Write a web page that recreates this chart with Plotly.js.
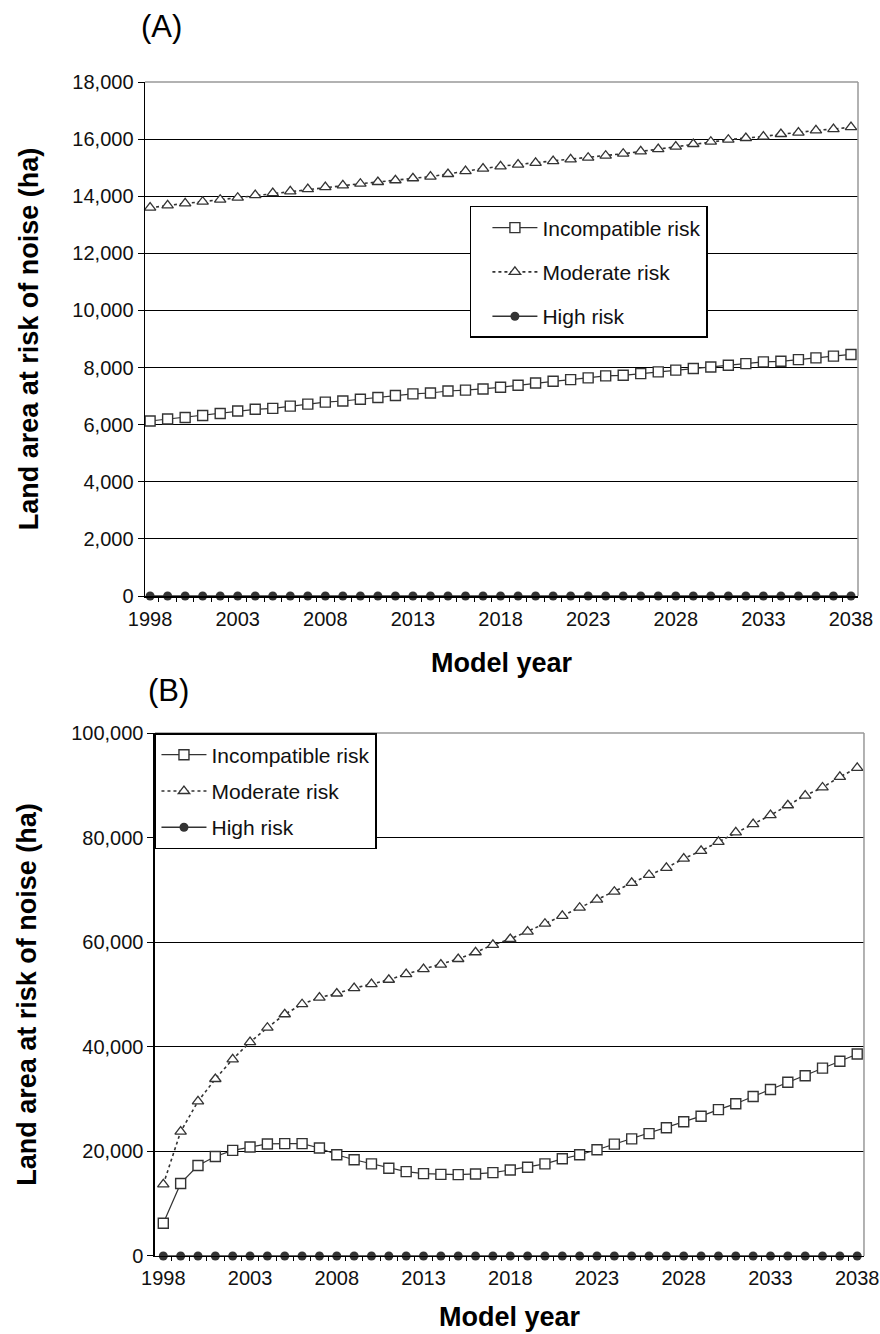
<!DOCTYPE html>
<html>
<head>
<meta charset="utf-8">
<script src="https://cdn.plot.ly/plotly-3.0.1.min.js"></script>
<style>html,body{margin:0;padding:0;background:#fff;}#chart{width:880px;height:1334px;}</style>
</head>
<body>
<div id="chart"></div>
<script>
// ---- data ----
const years = [1998,1999,2000,2001,2002,2003,2004,2005,2006,2007,2008,2009,2010,2011,2012,2013,2014,2015,2016,2017,2018,2019,2020,2021,2022,2023,2024,2025,2026,2027,2028,2029,2030,2031,2032,2033,2034,2035,2036,2037,2038];
const tickYears = [1998,2003,2008,2013,2018,2023,2028,2033,2038];
const seriesNames = ["Incompatible risk","Moderate risk","High risk"];

// Panel A
const aIncompatible = [6130,6200,6250,6320,6390,6480,6540,6570,6650,6720,6790,6830,6890,6950,7020,7080,7110,7180,7210,7250,7310,7380,7460,7520,7580,7640,7710,7730,7790,7850,7910,7970,8020,8080,8140,8200,8220,8280,8340,8400,8460];
const aModerate = [13600,13680,13750,13810,13880,13950,14040,14110,14170,14250,14320,14380,14440,14500,14560,14630,14690,14780,14880,14970,15050,15110,15170,15230,15290,15350,15420,15490,15570,15650,15740,15830,15910,15980,16040,16090,16180,16230,16310,16350,16420];
const aHigh = [0,0,0,0,0,0,0,0,0,0,0,0,0,0,0,0,0,0,0,0,0,0,0,0,0,0,0,0,0,0,0,0,0,0,0,0,0,0,0,0,0];

// Panel B
const bIncompatible = [6260,13870,17290,19030,20190,20840,21420,21480,21480,20650,19350,18390,17610,16770,16130,15740,15610,15550,15680,15940,16450,16970,17610,18580,19350,20310,21380,22390,23400,24530,25660,26730,27990,29120,30500,31820,33210,34470,35910,37230,38620];
const bModerate = [13680,23770,29560,33840,37610,40900,43650,46220,48140,49420,50190,51220,51990,52820,53910,54870,55710,56790,58080,59490,60610,62040,63540,65030,66600,68160,69660,71360,72860,74220,75990,77480,79180,81020,82590,84290,86190,88030,89590,91630,93330];
const bHigh = [0,0,0,0,0,0,0,0,0,0,0,0,0,0,0,0,0,0,0,0,0,0,0,0,0,0,0,0,0,0,0,0,0,0,0,0,0,0,0,0,0];

// ---- styles ----
const FONT = "Liberation Sans, Arial, sans-serif";
const INK = "#333";
function incStyle(){ return {mode:"lines+markers", line:{color:INK,width:1.2},
  marker:{symbol:"square",size:10,color:"#fff",line:{color:INK,width:1.4}}, cliponaxis:false}; }
function modStyle(){ return {mode:"lines+markers", line:{color:INK,width:1.6,dash:"dot"},
  marker:{symbol:"triangle-up",size:10,color:"#fff",line:{color:INK,width:1.3}}, cliponaxis:false}; }
function highStyle(){ return {mode:"lines+markers", line:{color:INK,width:1.4},
  marker:{symbol:"circle",size:9,color:INK,line:{color:INK,width:0}}, cliponaxis:false}; }

const traces = [
  Object.assign({x:years,y:aIncompatible,name:seriesNames[0],xaxis:"x",yaxis:"y",legend:"legend",legendgroup:"a1"},incStyle()),
  Object.assign({x:years,y:aModerate,name:seriesNames[1],xaxis:"x",yaxis:"y",legend:"legend",legendgroup:"a2"},modStyle()),
  Object.assign({x:years,y:aHigh,name:seriesNames[2],xaxis:"x",yaxis:"y",legend:"legend",legendgroup:"a3"},highStyle()),
  Object.assign({x:years,y:bIncompatible,name:seriesNames[0],xaxis:"x2",yaxis:"y2",legend:"legend2",legendgroup:"b1"},incStyle()),
  Object.assign({x:years,y:bModerate,name:seriesNames[1],xaxis:"x2",yaxis:"y2",legend:"legend2",legendgroup:"b2"},modStyle()),
  Object.assign({x:years,y:bHigh,name:seriesNames[2],xaxis:"x2",yaxis:"y2",legend:"legend2",legendgroup:"b3"},highStyle())
];

function xAxis(domain, range, anchor, standoff){
  return {domain:domain, range:range, anchor:anchor, tickmode:"array", tickvals:tickYears,
    ticks:"", showgrid:false, zeroline:false, showline:true, linecolor:"#000", linewidth:1.5,
    ticklabelstandoff:4,
    tickfont:{family:FONT,size:20,color:"#111"},
    minor:{tickmode:"linear",tick0:1997.5,dtick:1,ticks:"outside",ticklen:4,tickcolor:"#000",showgrid:false},
    title:{text:"Model year",font:{family:FONT,size:27,weight:"bold",color:"#000"},standoff:standoff}};
}
function yAxis(domain, range, dtick, anchor){
  return {domain:domain, range:range, dtick:dtick, anchor:anchor, tickformat:",d",
    showgrid:true, gridcolor:"#000", gridwidth:1, zeroline:false, showline:true,
    linecolor:"#000", linewidth:1.5, ticks:"outside", ticklen:6, tickcolor:"#000",
    tickfont:{family:FONT,size:20,color:"#111"},
    title:{text:"Land area at risk of noise (ha)",font:{family:FONT,size:27,weight:"bold",color:"#000"},standoff:26}};
}

const layout = {
  width:880, height:1334, margin:{l:0,r:0,t:0,b:0},
  paper_bgcolor:"#fff", plot_bgcolor:"#fff", font:{family:FONT,color:"#000"},
  xaxis: xAxis([0.1648,0.975],[1997.71,2038.4],"y",24),
  yaxis: yAxis([0.5532,0.9385],[0,18000],2000,"x"),
  xaxis2: xAxis([0.1761,0.9818],[1997.52,2038.39],"y2",18),
  yaxis2: yAxis([0.0585,0.4505],[0,100000],20000,"x2"),
  showlegend:true,
  legend:{x:0.534,y:0.8456,xanchor:"left",yanchor:"top",bgcolor:"#fff",bordercolor:"#000",borderwidth:1.5,
    font:{family:FONT,size:21,color:"#111"},traceorder:"grouped",tracegroupgap:14,itemwidth:45,
    indentation:16,entrywidth:263,entrywidthmode:"pixels"},
  legend2:{x:0.1761,y:0.4505,xanchor:"left",yanchor:"top",bgcolor:"#fff",bordercolor:"#000",borderwidth:1.5,
    font:{family:FONT,size:21,color:"#111"},traceorder:"grouped",tracegroupgap:6,itemwidth:45,
    entrywidth:225,entrywidthmode:"pixels"},
  shapes:[
    {type:"line",xref:"x domain",yref:"y domain",x0:0,x1:1,y0:1,y1:1,line:{color:"#999",width:1.5},layer:"above"},
    {type:"line",xref:"x domain",yref:"y domain",x0:1,x1:1,y0:0,y1:1,line:{color:"#999",width:1.5},layer:"above"},
    {type:"line",xref:"x2 domain",yref:"y2 domain",x0:0,x1:1,y0:1,y1:1,line:{color:"#999",width:1.5},layer:"above"},
    {type:"line",xref:"x2 domain",yref:"y2 domain",x0:1,x1:1,y0:0,y1:1,line:{color:"#999",width:1.5},layer:"above"}
  ],
  annotations:[
    {text:"(A)",xref:"paper",yref:"paper",x:161/880,y:1-26/1334,xanchor:"center",yanchor:"middle",showarrow:false,font:{family:FONT,size:31,color:"#000"}},
    {text:"(B)",xref:"paper",yref:"paper",x:168/880,y:1-690/1334,xanchor:"center",yanchor:"middle",showarrow:false,font:{family:FONT,size:31,color:"#000"}}
  ]
};

Plotly.newPlot("chart", traces, layout, {displayModeBar:false, staticPlot:true});
</script>
</body>
</html>
